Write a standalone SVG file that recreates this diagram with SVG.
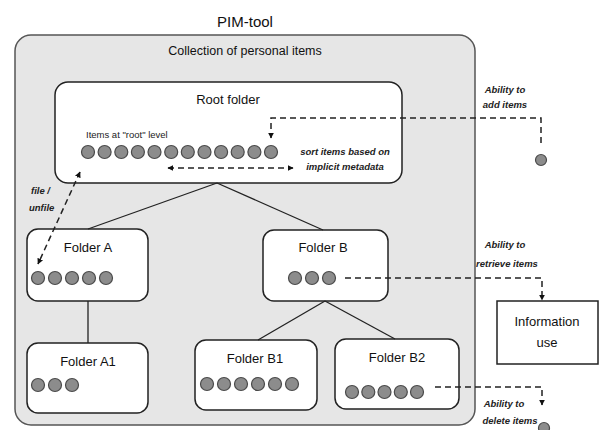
<svg xmlns="http://www.w3.org/2000/svg" width="603" height="430" viewBox="0 0 603 430">
<defs>
<style>
.t{font-family:"Liberation Sans",Arial,sans-serif;fill:#111;}
.title{font-size:15px;}
.big{font-size:12.5px;}
.fl{font-size:13px;}
.sm{font-size:9.5px;font-weight:bold;font-style:italic;fill:#222;}
.lv{font-size:9.5px;fill:#222;}
.box{fill:#fff;stroke:#222;stroke-width:1.5;}
.it{fill:#8c8c8c;stroke:#4a4a4a;stroke-width:1.2;}
.ln{stroke:#222;stroke-width:1.3;fill:none;}
.dash{stroke:#222;stroke-width:1.5;fill:none;stroke-dasharray:6,4;}
</style>
<marker id="ah" viewBox="0 0 10 10" refX="9" refY="5" markerWidth="6" markerHeight="6" orient="auto-start-reverse" markerUnits="userSpaceOnUse">
<path d="M0,0 L10,5 L0,10 z" fill="#111"/>
</marker>
</defs>
<rect width="603" height="430" fill="#fff"/>
<text class="t title" x="245" y="27" text-anchor="middle">PIM-tool</text>

<g id="collection">
<rect x="15" y="35" width="460" height="390" rx="16" fill="#e6e6e6" stroke="#555" stroke-width="1.5"/>
<text class="t big" x="245" y="55" text-anchor="middle">Collection of personal items</text>
</g>

<g id="root-folder">
<rect class="box" x="55" y="82" width="347" height="101" rx="13"/>
<text class="t fl" x="228" y="104" text-anchor="middle">Root folder</text>
<text class="t lv" x="86" y="138">Items at "root" level</text>
<circle class="it" cx="88" cy="152" r="6.5"/>
<circle class="it" cx="104.6" cy="152" r="6.5"/>
<circle class="it" cx="121.3" cy="152" r="6.5"/>
<circle class="it" cx="137.9" cy="152" r="6.5"/>
<circle class="it" cx="154.5" cy="152" r="6.5"/>
<circle class="it" cx="171.2" cy="152" r="6.5"/>
<circle class="it" cx="187.8" cy="152" r="6.5"/>
<circle class="it" cx="204.5" cy="152" r="6.5"/>
<circle class="it" cx="221.1" cy="152" r="6.5"/>
<circle class="it" cx="237.7" cy="152" r="6.5"/>
<circle class="it" cx="254.4" cy="152" r="6.5"/>
<circle class="it" cx="271" cy="152" r="6.5"/>
<text class="t sm" x="345" y="155" text-anchor="middle">sort items based on</text>
<text class="t sm" x="345" y="170" text-anchor="middle">implicit  metadata</text>
</g>

<g id="folder-a">
<rect class="box" x="27" y="229" width="121" height="72" rx="11"/>
<text class="t fl" x="88" y="252" text-anchor="middle">Folder A</text>
<circle class="it" cx="38" cy="278" r="6.5"/>
<circle class="it" cx="55" cy="278" r="6.5"/>
<circle class="it" cx="72" cy="278" r="6.5"/>
<circle class="it" cx="89" cy="278" r="6.5"/>
<circle class="it" cx="106" cy="278" r="6.5"/>
</g>

<g id="folder-a1">
<rect class="box" x="27" y="343" width="121" height="70" rx="11"/>
<text class="t fl" x="88" y="366" text-anchor="middle">Folder A1</text>
<circle class="it" cx="38" cy="385" r="6.5"/>
<circle class="it" cx="55" cy="385" r="6.5"/>
<circle class="it" cx="72" cy="385" r="6.5"/>
</g>

<g id="folder-b">
<rect class="box" x="263" y="230" width="125" height="71" rx="11"/>
<text class="t fl" x="323" y="252" text-anchor="middle">Folder B</text>
<circle class="it" cx="295" cy="278" r="6.5"/>
<circle class="it" cx="312" cy="278" r="6.5"/>
<circle class="it" cx="329" cy="278" r="6.5"/>
</g>

<g id="folder-b1">
<rect class="box" x="195" y="340" width="122" height="70" rx="11"/>
<text class="t fl" x="255" y="363" text-anchor="middle">Folder B1</text>
<circle class="it" cx="207" cy="384" r="6.5"/>
<circle class="it" cx="224" cy="384" r="6.5"/>
<circle class="it" cx="241" cy="384" r="6.5"/>
<circle class="it" cx="258" cy="384" r="6.5"/>
<circle class="it" cx="275" cy="384" r="6.5"/>
<circle class="it" cx="292" cy="384" r="6.5"/>
</g>

<g id="folder-b2">
<rect class="box" x="335" y="339" width="124" height="70" rx="11"/>
<text class="t fl" x="397" y="362" text-anchor="middle">Folder B2</text>
<circle class="it" cx="352" cy="392" r="6.5"/>
<circle class="it" cx="368.3" cy="392" r="6.5"/>
<circle class="it" cx="384.5" cy="392" r="6.5"/>
<circle class="it" cx="400.8" cy="392" r="6.5"/>
<circle class="it" cx="417" cy="392" r="6.5"/>
</g>

<g id="information-use">
<rect x="497" y="301" width="101" height="63" fill="#fff" stroke="#222" stroke-width="1.5"/>
<text class="t fl" x="547" y="326" text-anchor="middle">Information</text>
<text class="t fl" x="547" y="347" text-anchor="middle">use</text>
</g>

<g id="add-item">
<circle class="it" cx="541" cy="160" r="5.5"/>
<text class="t sm" x="505" y="93" text-anchor="middle">Ability to</text>
<text class="t sm" x="505" y="108" text-anchor="middle">add items</text>
</g>

<g id="retrieve-label">
<text class="t sm" x="505" y="248" text-anchor="middle">Ability to</text>
<text class="t sm" x="507" y="267" text-anchor="middle">retrieve items</text>
</g>

<g id="delete-item">
<circle class="it" cx="544" cy="428" r="5.5"/>
<text class="t sm" x="504" y="407" text-anchor="middle">Ability to</text>
<text class="t sm" x="510" y="424" text-anchor="middle">delete items</text>
</g>

<g id="file-label">
<text class="t sm" x="31" y="194">file /</text>
<text class="t sm" x="29" y="211">unfile</text>
</g>

<g id="connectors">
<line class="ln" x1="217" y1="183" x2="88" y2="229"/>
<line class="ln" x1="217" y1="183" x2="323" y2="230"/>
<line class="ln" x1="88" y1="301" x2="88" y2="343"/>
<line class="ln" x1="325" y1="301" x2="258" y2="340"/>
<line class="ln" x1="325" y1="301" x2="395" y2="339"/>
<polyline class="dash" points="541,143 541,118 271,118 271,138" marker-end="url(#ah)"/>
<line class="dash" x1="168" y1="168" x2="293" y2="168" marker-start="url(#ah)" marker-end="url(#ah)"/>
<line class="dash" x1="80" y1="172" x2="38" y2="264" marker-start="url(#ah)" marker-end="url(#ah)"/>
<polyline class="dash" points="345,278 542,278 542,300" marker-end="url(#ah)"/>
<polyline class="dash" points="435,387 542,387 542,405" marker-end="url(#ah)"/>
</g>
</svg>
